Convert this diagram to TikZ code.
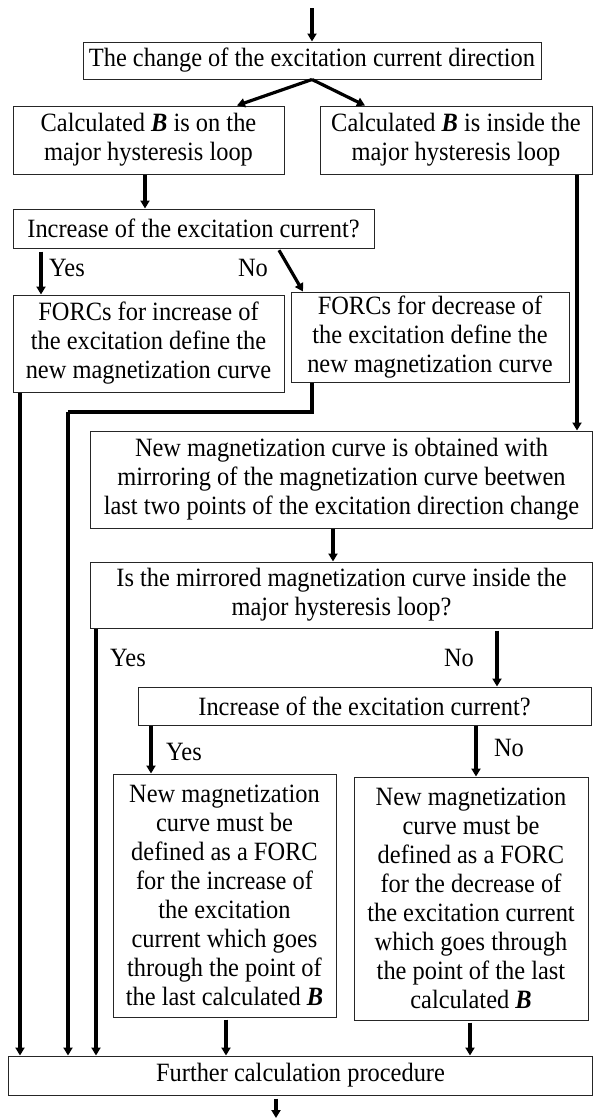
\documentclass[tikz,border=0pt]{standalone}
\usepackage{fontspec}
\setmainfont{Liberation Serif}[FakeStretch=0.925]
\usetikzlibrary{arrows.meta}
\begin{document}
\begin{tikzpicture}[x=1pt,y=-1pt,
  box/.style={draw=black!85, line width=1pt, inner sep=0pt, align=center,
    font=\fontsize{26.4}{29}\selectfont},
  lbl/.style={font=\fontsize{26.4}{29}\selectfont, inner sep=0pt},
  arr/.style={line width=3.2pt, -{Triangle[length=8pt,width=9pt]}},
  ln/.style={line width=3.2pt}]
\useasboundingbox (0,0) rectangle (593,1119);
\newcommand{\Bv}{\textbf{\textit{B}}}
% nodes
\node[box, minimum width=458pt, minimum height=37pt] (top) at (312,60.5) {The change of the excitation current direction};
\node[box, minimum width=271pt, minimum height=68pt] (onloop) at (148.5,140) {Calculated \Bv{} is on the\\major hysteresis loop};
\node[box, minimum width=272pt, minimum height=68pt] (inside) at (456,140) {Calculated \Bv{} is inside the\\major hysteresis loop};
\node[box, minimum width=361pt, minimum height=39pt] (inca) at (193.5,228.5) {Increase of the excitation current?};
\node[box, minimum width=271pt, minimum height=97pt] (forcinc) at (148.5,343.5) {FORCs for increase of\\the excitation define the\\new magnetization curve};
\node[box, minimum width=278pt, minimum height=90pt] (forcdec) at (430,337) {FORCs for decrease of\\the excitation define the\\new magnetization curve};
\node[box, minimum width=502pt, minimum height=97pt] (mirror) at (341.5,479.5) {New magnetization curve is obtained with\\mirroring of the magnetization curve beetwen\\last two points of the excitation direction change};
\node[box, minimum width=502pt, minimum height=66pt] (ismirr) at (341.5,595) {Is the mirrored magnetization curve inside the\\major hysteresis loop?};
\node[box, minimum width=453pt, minimum height=38pt] (incb) at (364.5,706) {Increase of the excitation current?};
\node[box, minimum width=223pt, minimum height=243pt] (newinc) at (224.5,895.5) {New magnetization\\curve must be\\defined as a FORC\\for the increase of\\the excitation\\current which goes\\through the point of\\the last calculated \Bv};
\node[box, minimum width=234pt, minimum height=243pt] (newdec) at (471,898.5) {New magnetization\\curve must be\\defined as a FORC\\for the decrease of\\the excitation current\\which goes through\\the point of the last\\calculated \Bv};
\node[box, minimum width=584pt, minimum height=39pt] (further) at (300.5,1075.5) {Further calculation procedure};
% labels
\node[lbl] (yes1) at (67,268) {Yes};
\node[lbl] (no1) at (253,268) {No};
\node[lbl] (yes2) at (128,658) {Yes};
\node[lbl] (no2) at (459,658) {No};
\node[lbl] (yes3) at (184,752) {Yes};
\node[lbl] (no3) at (509,748) {No};
% coordinates
\coordinate (start) at (312,8);
\coordinate (finish) at (276,1118);
\coordinate (bend) at (68,412);
\foreach \v in {20,41,96,145,151,226,237,276,278,303,312,333,365,470,476,497,577}
  \coordinate (c\v) at (\v,0);
% connectors
\draw[arr] (start) -- (top.north);
\draw[arr] (top.south) -- (onloop.north -| c237);
\draw[arr] (top.south) -- (inside.north -| c365);
\draw[arr] (onloop.south -| c145) -- (inca.north -| c145);
\draw[arr] (inside.south -| c577) -- (mirror.north -| c577);
\draw[arr, shorten <=3pt] (inca.south -| c41) -- (forcinc.north -| c41);
\draw[arr, shorten <=2pt] (inca.south -| c278) -- (forcdec.north -| c303);
\draw[arr] (forcinc.south -| c20) -- (further.north -| c20);
\draw[ln] (forcdec.south -| c312) |- (bend);
\draw[arr] (bend) -- (further.north -| bend);
\draw[arr] (mirror.south -| c333) -- (ismirr.north -| c333);
\draw[arr] (ismirr.south -| c96) -- (further.north -| c96);
\draw[arr, shorten <=2pt] (ismirr.south -| c497) -- (incb.north -| c497);
\draw[arr] (incb.south -| c151) -- (newinc.north -| c151);
\draw[arr] (incb.south -| c476) -- (newdec.north -| c476);
\draw[arr, shorten <=2pt] (newinc.south -| c226) -- (further.north -| c226);
\draw[arr, shorten <=2pt] (newdec.south -| c470) -- (further.north -| c470);
\draw[arr, shorten <=3pt] (further.south -| c276) -- (finish);
\end{tikzpicture}
\end{document}
